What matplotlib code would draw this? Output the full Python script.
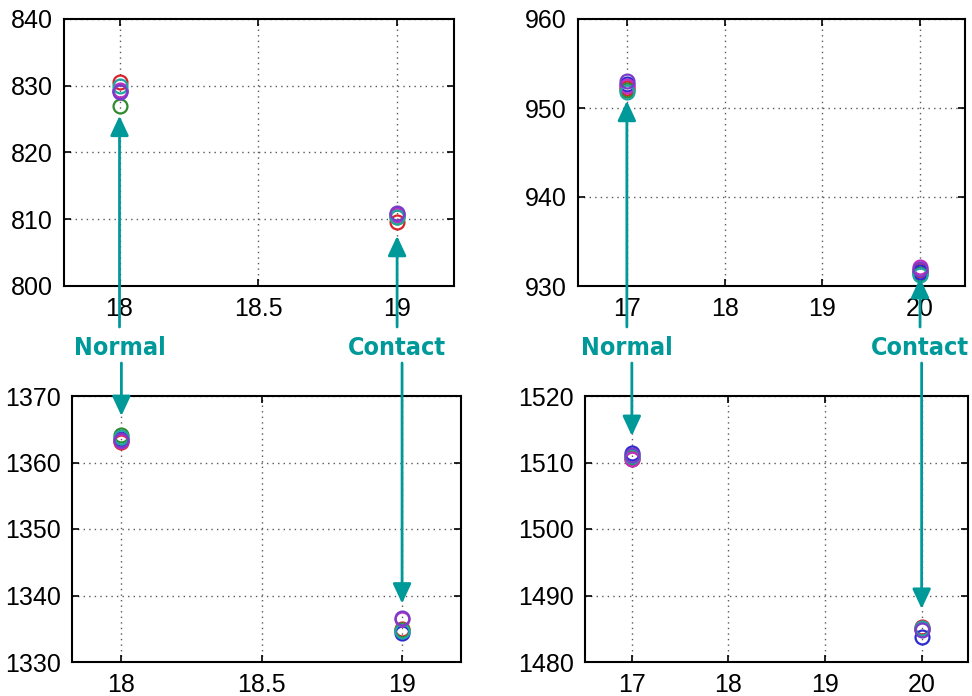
import matplotlib.pyplot as plt
from matplotlib.transforms import blended_transform_factory

# trial colours (matlab-ish)
trial_colors = ['#d8232a', '#2e8b2e', '#2a2ad0', '#c030c0', '#1fa6a0', '#7a3cc8']

# top-left panel
tl_x = [18, 19]
tl_y = [[830.6, 809.6], [826.9, 810.4], [829.2, 810.8],
        [829.4, 810.6], [830.0, 810.3], [829.0, 811.0]]
tl_ticks_x = [18, 18.5, 19]
tl_ticks_y = [800, 810, 820, 830, 840]

# top-right panel
tr_x = [17, 20]
tr_y = [[952.3, 931.8], [952.0, 931.4], [952.7, 931.6],
        [952.5, 932.1], [951.8, 931.2], [953.0, 931.9]]
tr_ticks_x = [17, 18, 19, 20]
tr_ticks_y = [930, 940, 950, 960]

# bottom-left panel
bl_x = [18, 19]
bl_y = [[1363.1, 1334.9], [1364.2, 1334.8], [1363.6, 1334.3],
        [1363.3, 1336.4], [1363.8, 1334.6], [1363.4, 1336.6]]
bl_ticks_x = [18, 18.5, 19]
bl_ticks_y = [1330, 1340, 1350, 1360, 1370]

# bottom-right panel
br_x = [17, 20]
br_y = [[1510.6, 1485.3], [1510.9, 1484.9], [1511.5, 1483.8],
        [1510.5, 1485.0], [1511.0, 1485.1], [1511.2, 1484.8]]
br_ticks_x = [17, 18, 19, 20]
br_ticks_y = [1480, 1490, 1500, 1510, 1520]

# arrow tips (data y) for Normal / Contact, top and bottom panels
left_tips_top = [825.5, 807.5]
left_tips_bottom = [1367.0, 1338.8]
right_tips_top = [950.8, 930.9]
right_tips_bottom = [1514.0, 1488.0]
labels = ['Normal', 'Contact']

W, H = 972, 696
fig = plt.figure(figsize=(W / 100, H / 100), dpi=100, facecolor='w')
plt.rcParams['font.family'] = ['Liberation Sans', 'DejaVu Sans']


def make_axes(l, r, t, b):
    return fig.add_axes([l / W, 1 - b / H, (r - l) / W, (b - t) / H])


def style(ax, xs, ys, xlim, ylim, xticks, yticks):
    for y, c in zip(ys, trial_colors):
        ax.plot(xs, y, 'o', mfc='none', mec=c, ms=10, mew=1.6)
    ax.set_xlim(*xlim)
    ax.set_ylim(*ylim)
    ax.set_xticks(xticks)
    ax.set_yticks(yticks)
    ax.set_xticklabels([('%g' % v) for v in xticks])
    ax.grid(True, color='0.35', ls=(0, (1, 3)), lw=1)
    ax.tick_params(direction='in', length=5, width=1.2, top=True, right=True,
                   labelsize=18, pad=8)
    for s in ax.spines.values():
        s.set_linewidth(1.5)


ax_tl = make_axes(64, 454, 19, 286)
style(ax_tl, tl_x, tl_y, (17.80, 19.205), (800, 840), tl_ticks_x, tl_ticks_y)
ax_tr = make_axes(578, 965, 19, 286)
style(ax_tr, tr_x, tr_y, (16.50, 20.46), (930, 960), tr_ticks_x, tr_ticks_y)
ax_bl = make_axes(72, 461, 396, 662)
style(ax_bl, bl_x, bl_y, (17.824, 19.21), (1330, 1370), bl_ticks_x, bl_ticks_y)
ax_br = make_axes(585, 968, 396, 662)
style(ax_br, br_x, br_y, (16.515, 20.48), (1480, 1520), br_ticks_x, br_ticks_y)

teal = '#00999a'
text_y = 1 - 348 / H
line_up_y = 1 - 327 / H
line_down_y = 1 - 363 / H


def arrows(ax_top, ax_bot, xs, tips_top, tips_bot):
    for x, lab, t_top, t_bot in zip(xs, labels, tips_top, tips_bot):
        tr_top = blended_transform_factory(ax_top.transData, fig.transFigure)
        fig.text(x, text_y, lab, transform=tr_top, ha='center', va='center',
                 color=teal, fontsize=18, fontweight='bold',
                 fontstretch='condensed', family='DejaVu Sans')
        props = dict(arrowstyle='-|>,head_length=0.6,head_width=0.28',
                     color=teal, lw=2, shrinkA=0, shrinkB=0, mutation_scale=20)
        ax_top.annotate('', xy=(x, t_top), xycoords='data',
                        xytext=(x, line_up_y), textcoords=tr_top,
                        arrowprops=props, annotation_clip=False)
        tr_bot = blended_transform_factory(ax_bot.transData, fig.transFigure)
        ax_bot.annotate('', xy=(x, t_bot), xycoords='data',
                        xytext=(x, line_down_y), textcoords=tr_bot,
                        arrowprops=props, annotation_clip=False)


arrows(ax_tl, ax_bl, tl_x, left_tips_top, left_tips_bottom)
arrows(ax_tr, ax_br, tr_x, right_tips_top, right_tips_bottom)

fig.savefig('out.png', dpi=100)
